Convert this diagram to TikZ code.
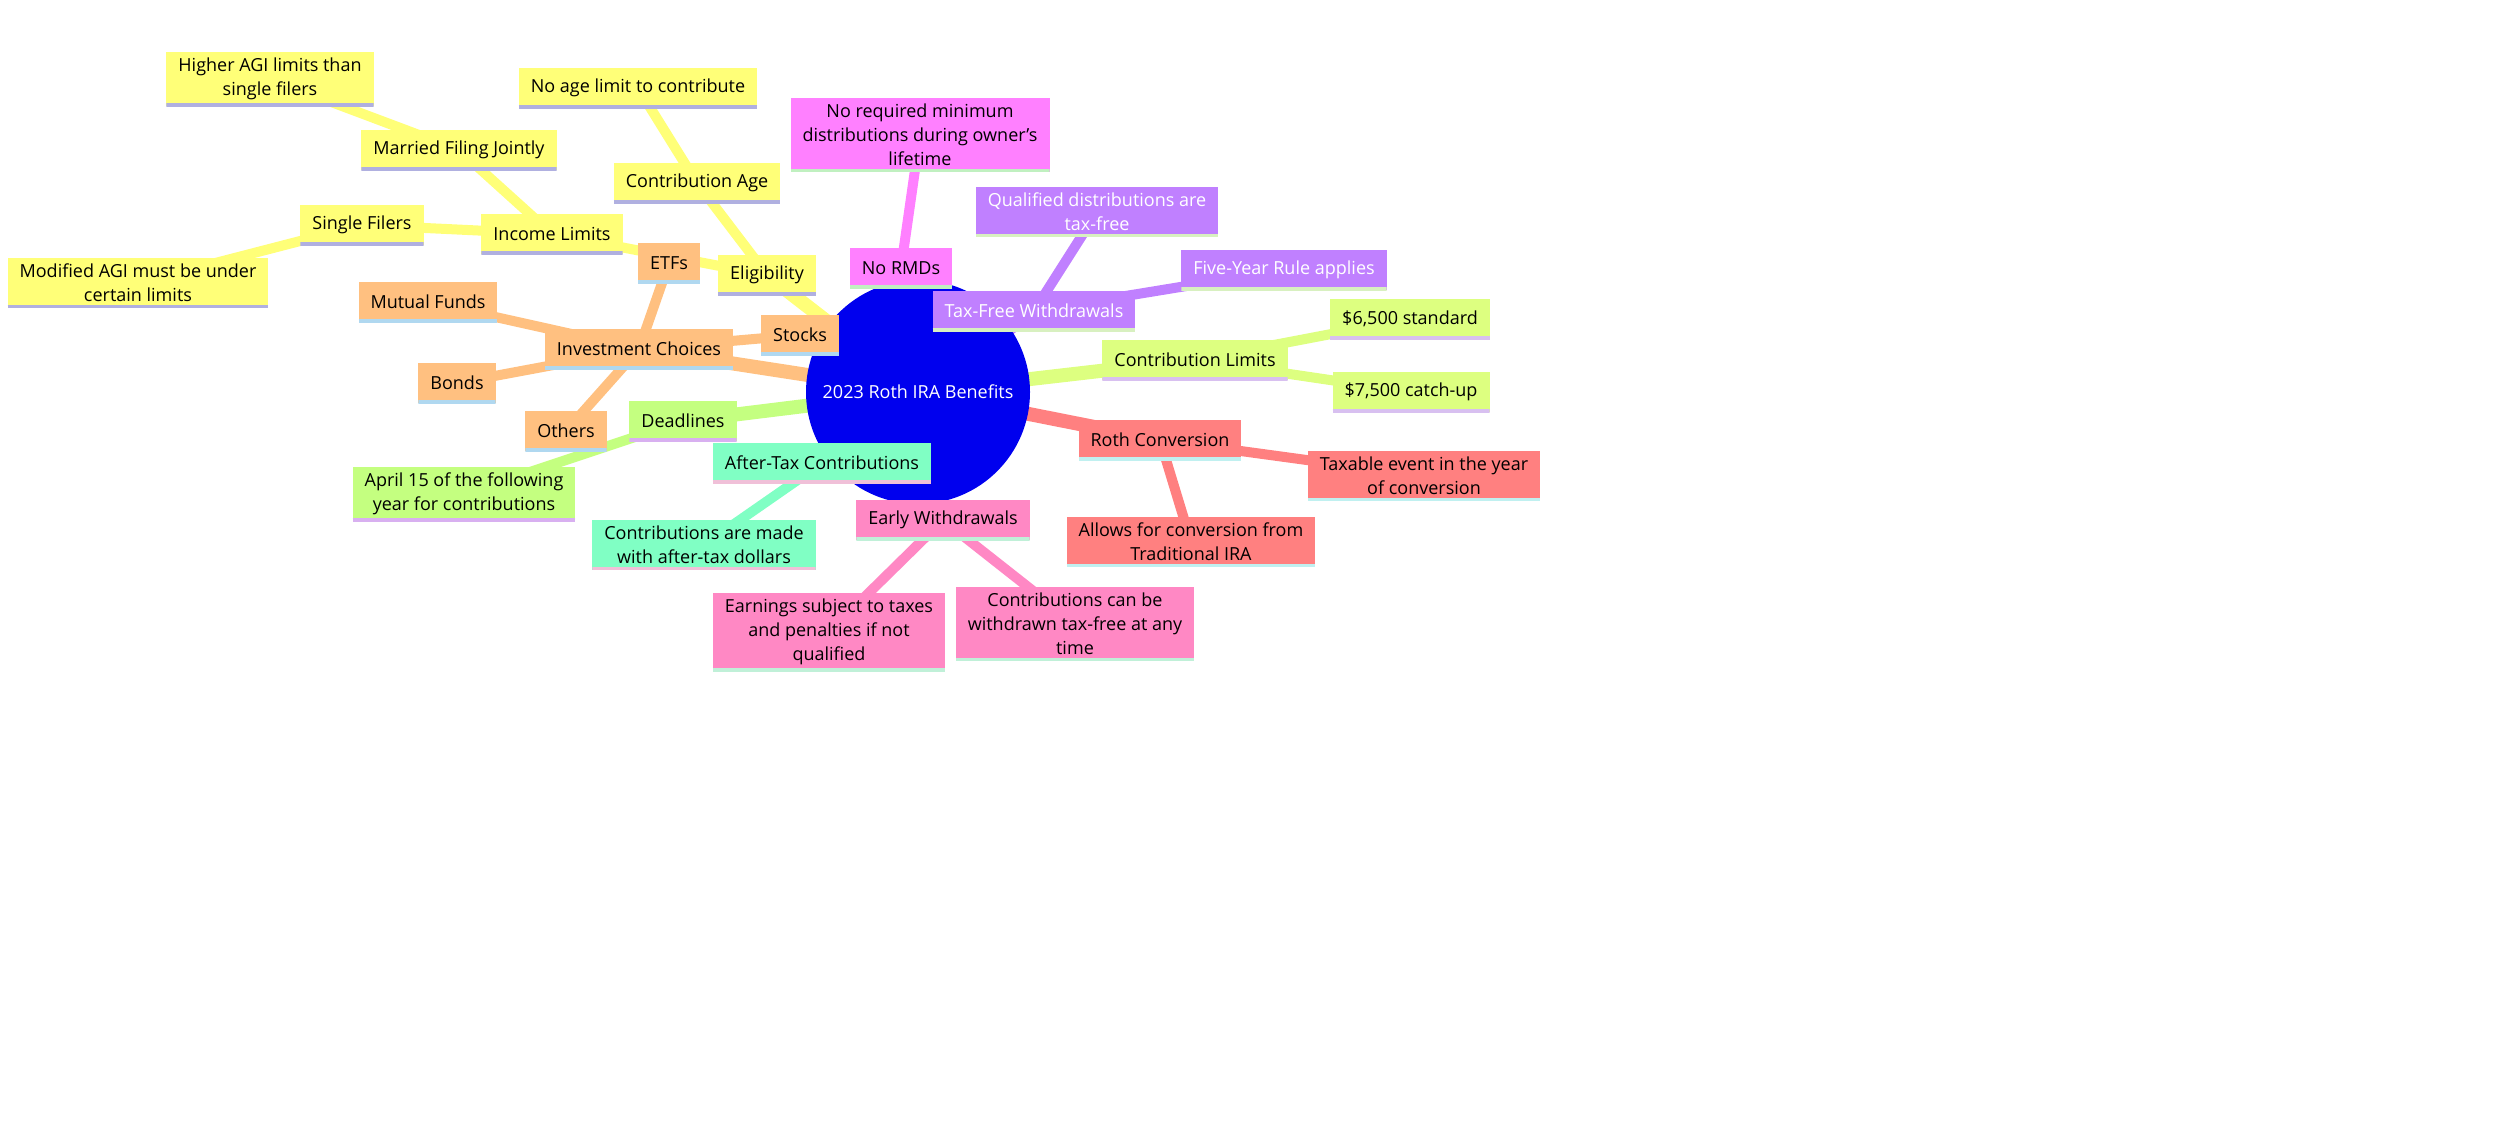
\documentclass[tikz,border=0pt]{standalone}
\usepackage{fontspec}
\setmainfont{Open Sans}
\begin{document}
\begin{tikzpicture}[x=1pt,y=-1pt,
  mm/.style 2 args={rectangle,fill=#1,inner xsep=12pt,inner ysep=6pt,minimum height=40pt,align=center,
    font=\fontsize{18}{24}\selectfont,
    path picture={\draw[#2,line width=6pt] (path picture bounding box.south west) -- (path picture bounding box.south east);}},
  e/.style={line width=#1, line cap=round},
  e/.default=10pt]
\useasboundingbox (0,0) rectangle (2500,1148);
\definecolor{fYel}{HTML}{FFFF78}\definecolor{bYel}{HTML}{B0B0E0}
\definecolor{fOra}{HTML}{FFC080}\definecolor{bOra}{HTML}{B0D8F0}
\definecolor{fGrn}{HTML}{C4FF80}\definecolor{bGrn}{HTML}{D8B0F0}
\definecolor{fTea}{HTML}{80FFC4}\definecolor{bTea}{HTML}{F0C0D8}
\definecolor{fPnk}{HTML}{FF88C4}\definecolor{bPnk}{HTML}{C0F0D8}
\definecolor{fRed}{HTML}{FF8080}\definecolor{bRed}{HTML}{C0F0F0}
\definecolor{fLim}{HTML}{DDFF80}\definecolor{bLim}{HTML}{D8C0F0}
\definecolor{fVio}{HTML}{C080FF}\definecolor{bVio}{HTML}{D8F0C0}
\definecolor{fMag}{HTML}{FF80FF}\definecolor{bMag}{HTML}{C0F0C0}
\definecolor{fRoot}{HTML}{0000EE}

\coordinate (R) at (918,392);
\coordinate (elig) at (767,275);\coordinate (cage) at (697,183);\coordinate (noage) at (638,88);
\coordinate (inc) at (552,234);\coordinate (mfj) at (459,150);\coordinate (hagi) at (270,79);
\coordinate (sf) at (362,225);\coordinate (magi) at (138,283);
\coordinate (inv) at (639,349);\coordinate (stk) at (800,335);\coordinate (etf) at (669,263);
\coordinate (mf) at (428,302);\coordinate (bnd) at (457,383);\coordinate (oth) at (566,431);
\coordinate (dl) at (683,421);\coordinate (apr) at (464,494);
\coordinate (atc) at (822,463);\coordinate (atd) at (704,545);
\coordinate (ew) at (943,520);\coordinate (earn) at (829,632);\coordinate (cw) at (1075,624);
\coordinate (rc) at (1160,440);\coordinate (tax) at (1424,476);\coordinate (allow) at (1191,542);
\coordinate (clim) at (1195,360);\coordinate (s65) at (1410,319);\coordinate (s75) at (1411,392);
\coordinate (tfw) at (1034,311);\coordinate (qd) at (1097,212);\coordinate (fyr) at (1284,270);
\coordinate (rmd) at (901,268);\coordinate (nrmd) at (920,135);

\draw[e=14pt,fYel] (R)--(elig); \draw[e,fYel] (elig)--(cage)--(noage); \draw[e,fYel] (elig)--(inc);
\draw[e,fYel] (inc)--(mfj)--(hagi); \draw[e,fYel] (inc)--(sf)--(magi);
\draw[e=14pt,fOra] (R)--(inv); \draw[e,fOra] (inv)--(stk); \draw[e,fOra] (inv)--(etf);
\draw[e,fOra] (inv)--(mf); \draw[e,fOra] (inv)--(bnd); \draw[e,fOra] (inv)--(oth);
\draw[e=14pt,fGrn] (R)--(dl); \draw[e,fGrn] (dl)--(apr);
\draw[e=14pt,fTea] (R)--(atc); \draw[e,fTea] (atc)--(atd);
\draw[e=14pt,fPnk] (R)--(ew); \draw[e,fPnk] (ew)--(earn); \draw[e,fPnk] (ew)--(cw);
\draw[e=14pt,fRed] (R)--(rc); \draw[e,fRed] (rc)--(tax); \draw[e,fRed] (rc)--(allow);
\draw[e=14pt,fLim] (R)--(clim); \draw[e,fLim] (clim)--(s65); \draw[e,fLim] (clim)--(s75);
\draw[e=14pt,fVio] (R)--(tfw); \draw[e,fVio] (tfw)--(qd); \draw[e,fVio] (tfw)--(fyr);
\draw[e=14pt,fMag] (R)--(rmd); \draw[e,fMag] (rmd)--(nrmd);

\node[circle,fill=fRoot,minimum size=224pt,text=white,font=\fontsize{18}{24}\selectfont] (root) at (R) {2023 Roth IRA Benefits};

\node[mm={fYel}{bYel}] (n1) at (elig) {Eligibility};
\node[mm={fYel}{bYel}] (n2) at (cage) {Contribution Age};
\node[mm={fYel}{bYel}] (n3) at (noage) {No age limit to contribute};
\node[mm={fYel}{bYel}] (n4) at (inc) {Income Limits};
\node[mm={fYel}{bYel}] (n5) at (mfj) {Married Filing Jointly};
\node[mm={fYel}{bYel}] (n6) at (hagi) {Higher AGI limits than\\single filers};
\node[mm={fYel}{bYel}] (n7) at (sf) {Single Filers};
\node[mm={fYel}{bYel}] (n8) at (magi) {Modified AGI must be under\\certain limits};

\node[mm={fOra}{bOra}] (n9) at (inv) {Investment Choices};
\node[mm={fOra}{bOra}] (n10) at (stk) {Stocks};
\node[mm={fOra}{bOra}] (n11) at (etf) {ETFs};
\node[mm={fOra}{bOra}] (n12) at (mf) {Mutual Funds};
\node[mm={fOra}{bOra}] (n13) at (bnd) {Bonds};
\node[mm={fOra}{bOra}] (n14) at (oth) {Others};

\node[mm={fGrn}{bGrn}] (n15) at (dl) {Deadlines};
\node[mm={fGrn}{bGrn}] (n16) at (apr) {April 15 of the following\\year for contributions};

\node[mm={fTea}{bTea}] (n17) at (atc) {After-Tax Contributions};
\node[mm={fTea}{bTea}] (n18) at (atd) {Contributions are made\\with after-tax dollars};

\node[mm={fPnk}{bPnk}] (n19) at (ew) {Early Withdrawals};
\node[mm={fPnk}{bPnk}] (n20) at (earn) {Earnings subject to taxes\\and penalties if not\\qualified};
\node[mm={fPnk}{bPnk}] (n21) at (cw) {Contributions can be\\withdrawn tax-free at any\\time};

\node[mm={fRed}{bRed}] (n22) at (rc) {Roth Conversion};
\node[mm={fRed}{bRed}] (n23) at (tax) {Taxable event in the year\\of conversion};
\node[mm={fRed}{bRed}] (n24) at (allow) {Allows for conversion from\\Traditional IRA};

\node[mm={fLim}{bLim}] (n25) at (clim) {Contribution Limits};
\node[mm={fLim}{bLim}] (n26) at (s65) {\$6,500 standard};
\node[mm={fLim}{bLim}] (n27) at (s75) {\$7,500 catch-up};

\node[mm={fVio}{bVio},text=white] (n28) at (tfw) {Tax-Free Withdrawals};
\node[mm={fVio}{bVio},text=white] (n29) at (qd) {Qualified distributions are\\tax-free};
\node[mm={fVio}{bVio},text=white] (n30) at (fyr) {Five-Year Rule applies};

\node[mm={fMag}{bMag}] (n31) at (rmd) {No RMDs};
\node[mm={fMag}{bMag}] (n32) at (nrmd) {No required minimum\\distributions during owner's\\lifetime};
\end{tikzpicture}
\end{document}
